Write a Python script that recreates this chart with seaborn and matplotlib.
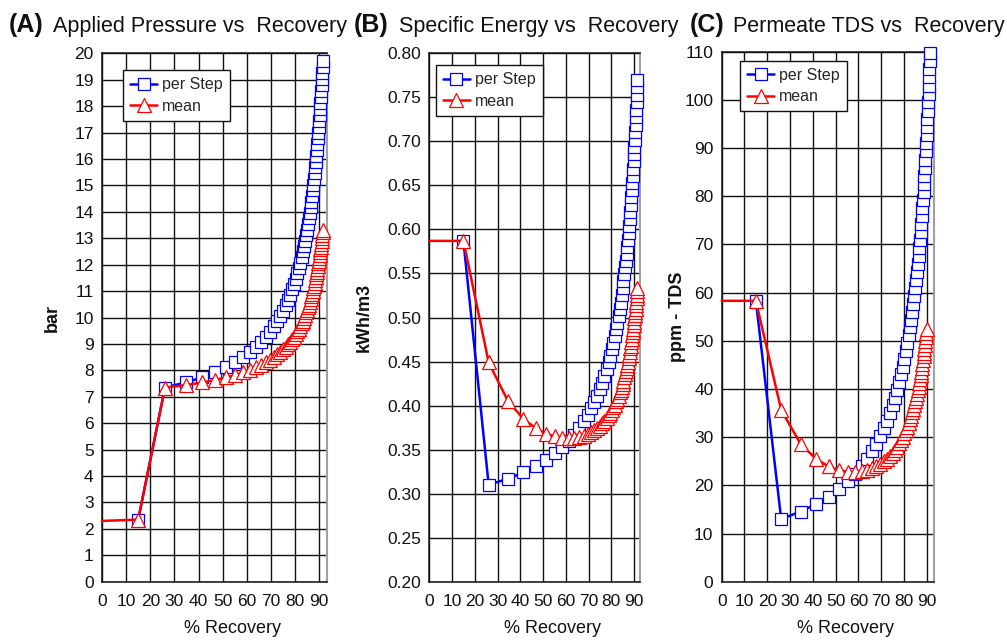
import matplotlib
matplotlib.use("Agg")
import matplotlib.pyplot as plt
import seaborn as sns
from matplotlib.ticker import FormatStrFormatter, MultipleLocator

# % recovery reached after each step
recovery = [15.0, 26.1, 34.6, 41.4, 46.9, 51.4, 55.3, 58.5, 61.4, 63.8,
            66.0, 67.9, 69.6, 71.2, 72.6, 73.8, 75.0, 76.1, 77.0, 77.9,
            78.8, 79.5, 80.2, 80.9, 81.5, 82.1, 82.7, 83.2, 83.7, 84.1,
            84.5, 85.0, 85.3, 85.7, 86.1, 86.4, 86.7, 87.0, 87.3, 87.6,
            87.9, 88.1, 88.4, 88.6, 88.8, 89.0, 89.2, 89.4, 89.6, 89.8,
            90.0, 90.2, 90.3, 90.5, 90.7, 90.8, 91.0, 91.1, 91.2, 91.4, 91.5]

# (A) applied pressure, bar
pressure_step = [2.35,
                 7.35, 7.54, 7.73, 7.92, 8.11, 8.30, 8.49, 8.69, 8.88, 9.08,
                 9.27, 9.47, 9.66, 9.86, 10.06, 10.26, 10.46, 10.66, 10.86, 11.06,
                 11.27, 11.47, 11.67, 11.88, 12.08, 12.29, 12.50, 12.70, 12.91, 13.12,
                 13.33, 13.54, 13.75, 13.96, 14.17, 14.39, 14.60, 14.81, 15.03, 15.25,
                 15.46, 15.68, 15.90, 16.12, 16.33, 16.55, 16.78, 17.00, 17.22, 17.44,
                 17.66, 17.89, 18.11, 18.34, 18.57, 18.79, 19.02, 19.25, 19.48, 19.71]
pressure_mean = [2.30, 2.35,
                 7.35, 7.44, 7.54, 7.63, 7.73, 7.82, 7.92, 8.02, 8.11, 8.21,
                 8.30, 8.40, 8.50, 8.60, 8.69, 8.79, 8.89, 8.99, 9.09, 9.19,
                 9.28, 9.38, 9.48, 9.58, 9.68, 9.78, 9.88, 9.98, 10.09, 10.19,
                 10.29, 10.39, 10.49, 10.59, 10.70, 10.80, 10.90, 11.00, 11.11, 11.21,
                 11.31, 11.42, 11.52, 11.63, 11.73, 11.84, 11.94, 12.05, 12.15, 12.26,
                 12.36, 12.47, 12.58, 12.68, 12.79, 12.90, 13.00, 13.11, 13.22, 13.33]

# (B) specific energy, kWh/m3
energy_step = [0.587,
               0.310, 0.317, 0.324, 0.331, 0.338, 0.346, 0.353, 0.360, 0.367, 0.375,
               0.382, 0.389, 0.397, 0.404, 0.411, 0.419, 0.426, 0.434, 0.441, 0.449,
               0.456, 0.464, 0.471, 0.479, 0.487, 0.494, 0.502, 0.510, 0.517, 0.525,
               0.533, 0.541, 0.549, 0.557, 0.564, 0.572, 0.580, 0.588, 0.596, 0.604,
               0.612, 0.620, 0.628, 0.637, 0.645, 0.653, 0.661, 0.669, 0.678, 0.686,
               0.694, 0.702, 0.711, 0.719, 0.728, 0.736, 0.745, 0.753, 0.762, 0.770]
energy_mean = [0.587, 0.587,
               0.449, 0.405, 0.385, 0.374, 0.368, 0.365, 0.363, 0.363, 0.363, 0.364,
               0.366, 0.368, 0.370, 0.372, 0.374, 0.377, 0.380, 0.383, 0.386, 0.389,
               0.392, 0.395, 0.398, 0.401, 0.405, 0.408, 0.411, 0.415, 0.418, 0.421,
               0.425, 0.428, 0.432, 0.436, 0.439, 0.443, 0.446, 0.450, 0.454, 0.457,
               0.461, 0.465, 0.468, 0.472, 0.476, 0.480, 0.483, 0.487, 0.491, 0.495,
               0.499, 0.503, 0.506, 0.510, 0.514, 0.518, 0.522, 0.526, 0.530, 0.534]

# (C) permeate TDS, ppm
tds_step = [58.3,
            13.00, 14.55, 16.11, 17.67, 19.24, 20.80, 22.37, 23.94, 25.52, 27.10,
            28.68, 30.26, 31.85, 33.44, 35.03, 36.63, 38.23, 39.83, 41.44, 43.04,
            44.66, 46.27, 47.89, 49.51, 51.13, 52.76, 54.39, 56.02, 57.65, 59.29,
            60.93, 62.58, 64.22, 65.87, 67.53, 69.18, 70.84, 72.50, 74.17, 75.84,
            77.51, 79.18, 80.86, 82.54, 84.22, 85.91, 87.60, 89.29, 90.98, 92.68,
            94.38, 96.09, 97.79, 99.50, 101.22, 102.93, 104.65, 106.37, 108.10, 109.82]
tds_mean = [58.3, 58.3,
            35.65, 28.62, 25.49, 23.93, 23.15, 22.81, 22.76, 22.89, 23.15, 23.51,
            23.94, 24.43, 24.96, 25.52, 26.12, 26.73, 27.37, 28.03, 28.70, 29.38,
            30.08, 30.78, 31.49, 32.21, 32.94, 33.68, 34.42, 35.16, 35.91, 36.66,
            37.42, 38.19, 38.95, 39.72, 40.49, 41.27, 42.05, 42.83, 43.61, 44.40,
            45.19, 45.98, 46.77, 47.56, 48.36, 49.16, 49.96, 50.76, 51.57, 52.37]

# the mean curves start with a flat segment from 0 % recovery
mean_start = [0.0]

panels = [
    dict(tag="(A)", title="Applied Pressure vs  Recovery", ylabel="bar",
         step=pressure_step, mean=pressure_mean, ylim=(0, 20), ystep=1, fmt="%d",
         box=[0.1013, 0.0911, 0.2231, 0.8256], xmax=93.1, tag_x=9, title_x=53,
         leg=(0.094, 0.968), ylab_x=-0.182),
    dict(tag="(B)", title="Specific Energy vs  Recovery", ylabel="kWh/m3",
         step=energy_step, mean=energy_mean, ylim=(0.2, 0.8), ystep=0.05, fmt="%.2f",
         box=[0.4263, 0.0911, 0.2092, 0.8256], xmax=92.6, tag_x=354, title_x=399,
         leg=(0.030, 0.978), ylab_x=-0.267),
    dict(tag="(C)", title="Permeate TDS vs  Recovery", ylabel="ppm - TDS",
         step=tds_step, mean=tds_mean, ylim=(0, 110), ystep=10, fmt="%d",
         box=[0.7167, 0.0911, 0.2108, 0.8281], xmax=93.2, tag_x=690, title_x=733,
         leg=(0.086, 0.983), ylab_x=-0.168),
]

sns.set_style("white")
plt.rcParams["font.family"] = ["Liberation Sans", "DejaVu Sans"]

W, H = 1007, 640
fig = plt.figure(figsize=(W / 100, H / 100), dpi=100)

for p in panels:
    ax = fig.add_axes(p["box"])
    ax.set_axisbelow(True)

    sns.lineplot(x=recovery, y=p["step"], ax=ax, sort=False, estimator=None,
                 color="#0000ff", lw=1.8, marker="s", ms=8.5, mfc="white",
                 mec="#0000ff", mew=0.9, label="per Step", clip_on=False, zorder=3)
    mean_x = mean_start + recovery[:len(p["mean"]) - 1]
    sns.lineplot(x=mean_x, y=p["mean"], ax=ax, sort=False, estimator=None,
                 color="#ff0000", lw=1.8, marker="^", ms=10, mfc="white",
                 mec="#ff0000", mew=0.9, markevery=list(range(1, len(p["mean"]))),
                 label="mean", clip_on=False, zorder=4)

    ax.set_xlim(0, p["xmax"])
    ax.set_ylim(*p["ylim"])
    ax.yaxis.set_major_locator(MultipleLocator(p["ystep"]))
    ax.yaxis.set_major_formatter(FormatStrFormatter(p["fmt"]))
    ax.set_xticks(range(0, 91, 10))

    ax.grid(True, color="#111111", lw=1.0)
    for s in ["left", "bottom", "top"]:
        ax.spines[s].set_color("#111111")
        ax.spines[s].set_linewidth(1.1)
    ax.spines["right"].set_color("#a0a0a0")
    ax.spines["right"].set_linewidth(1.5)

    ax.tick_params(axis="both", direction="out", length=5, width=1,
                   color="#111111", labelsize=12.5, labelcolor="#111111")
    ax.tick_params(axis="y", pad=1)
    ax.tick_params(axis="x", pad=4)

    ax.set_xlabel("% Recovery", fontsize=13, color="#111111")
    ax.xaxis.set_label_coords(0.583, -0.072)
    ax.set_ylabel(p["ylabel"], fontsize=13, fontweight="bold", color="#111111")
    ax.yaxis.set_label_coords(p["ylab_x"], 0.5)

    leg = ax.legend(loc="upper left", bbox_to_anchor=p["leg"], borderaxespad=0,
                    frameon=True, fancybox=False, framealpha=1, edgecolor="#111111",
                    fontsize=11.5, handlelength=1.7, handletextpad=0.3,
                    borderpad=0.45, labelspacing=0.4)
    leg.get_frame().set_linewidth(1.0)

    fig.text(p["tag_x"] / W, 1 - 32 / H, p["tag"], fontsize=18,
             fontweight="bold", va="baseline", color="#111111")
    fig.text(p["title_x"] / W, 1 - 32 / H, p["title"], fontsize=15.5,
             va="baseline", color="#111111")

fig.savefig("out.png", dpi=100)
